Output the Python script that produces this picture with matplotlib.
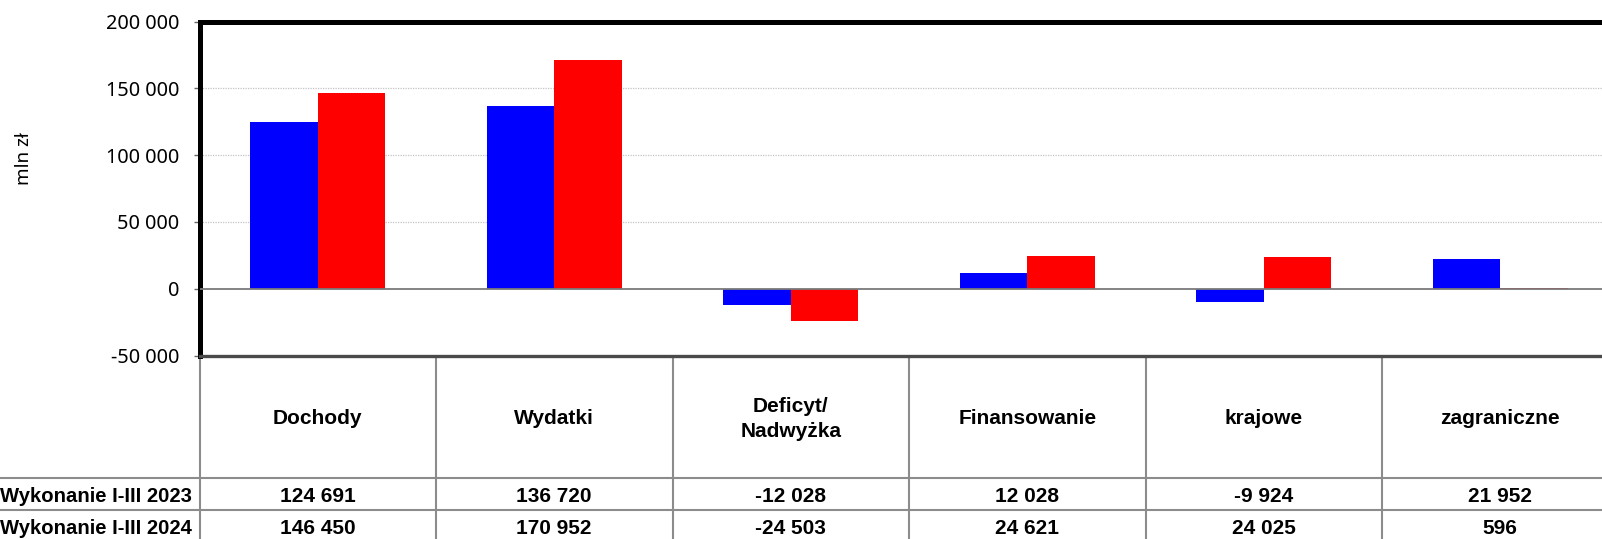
import matplotlib
matplotlib.use('Agg')
import matplotlib.pyplot as plt
from matplotlib.transforms import blended_transform_factory
from matplotlib.ticker import FuncFormatter

categories = ['Dochody', 'Wydatki', 'Deficyt/\nNadwyżka', 'Finansowanie', 'krajowe', 'zagraniczne']
series_names = ['Wykonanie I-III 2023', 'Wykonanie I-III 2024']
values_2023 = [124691, 136720, -12028, 12028, -9924, 21952]
values_2024 = [146450, 170952, -24503, 24621, 24025, 596]
y_ticks = [-50000, 0, 50000, 100000, 150000, 200000]


def fmt(v, pos=None):
	s = '{:,}'.format(int(v)).replace(',', ' ')
	return s


W, H = 1602, 539
fig = plt.figure(figsize=(W / 100, H / 100), dpi=100)

# axes reaches past the right edge, like in the original screenshot
left = 199.5 / W
col_w = 236.5 / W
top_px, bot_px = 21.5, 355.5
ax = fig.add_axes([left, 1 - bot_px / H, 6 * col_w, (bot_px - top_px) / H])

x = list(range(len(categories)))
bw = 0.285
ax.bar([i - bw / 2 for i in x], values_2023, width=bw, color='#0000FF', zorder=3)
ax.bar([i + bw / 2 for i in x], values_2024, width=bw, color='#FF0000', zorder=3)

ax.set_xlim(-0.5, len(categories) - 0.5)
ax.set_ylim(-50000, 200000)
ax.set_yticks(y_ticks)
ax.yaxis.set_major_formatter(FuncFormatter(fmt))
ax.set_xticks([])

for y in [50000, 100000, 150000]:
	ax.axhline(y, color='#c4c4c4', linestyle=(0, (1, 1)), linewidth=0.9, zorder=1)
ax.axhline(0, color='#7a7a7a', linewidth=1.3, zorder=4)

ax.spines['right'].set_visible(False)
ax.spines['left'].set_linewidth(3.6)
ax.spines['top'].set_linewidth(3.6)
ax.spines['left'].set_color('black')
ax.spines['top'].set_color('black')
ax.spines['bottom'].set_linewidth(2.4)
ax.spines['bottom'].set_color('#4a4a4a')

ax.tick_params(axis='y', direction='out', length=4, width=1, color='#666666', pad=10.5, labelsize=14.3)
for lab in ax.get_yticklabels():
	lab.set_fontfamily('Noto Sans')

fig.text(24 / W, 1 - 159 / H, 'mln zł', rotation=90, ha='center', va='center',
	fontsize=13.5, family='Noto Sans')

# data table under the plot
ax_h = bot_px - top_px
def ay(px):
	return -(px - bot_px) / ax_h

tr_fig_x = blended_transform_factory(fig.transFigure, ax.transAxes)
tr_dat_x = blended_transform_factory(ax.transData, ax.transAxes)
grid_c = '#8c8c8c'

row_lines = [478, 510]
for r in row_lines:
	ax.plot([0, 1.05], [ay(r), ay(r)], transform=tr_fig_x, color=grid_c, lw=1.5, clip_on=False)
for i in range(len(categories) + 1):
	xv = i - 0.5
	ax.plot([xv, xv], [ay(bot_px + 1), ay(545)], transform=tr_dat_x, color=grid_c, lw=1.5, clip_on=False)

tfont = dict(family='Liberation Sans', fontweight='bold', fontsize=15)
for i, c in enumerate(categories):
	ax.text(i, ay(419), c, transform=tr_dat_x, ha='center', va='center', linespacing=1.4, **tfont)
	ax.text(i, ay(496), fmt(values_2023[i]), transform=tr_dat_x, ha='center', va='center', **tfont)
	ax.text(i, ay(528), fmt(values_2024[i]), transform=tr_dat_x, ha='center', va='center', **tfont)

lfont = dict(tfont, fontsize=14.6)
ax.text(192 / W, ay(496), series_names[0], transform=tr_fig_x, ha='right', va='center', **lfont)
ax.text(192 / W, ay(528), series_names[1], transform=tr_fig_x, ha='right', va='center', **lfont)

plt.savefig('out.png', dpi=100)
